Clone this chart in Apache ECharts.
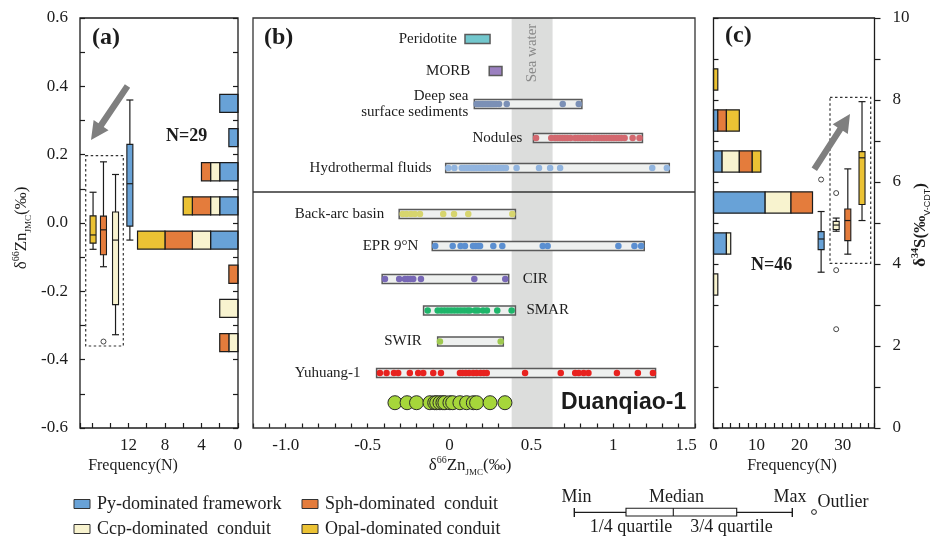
<!DOCTYPE html>
<html>
<head>
<meta charset="utf-8">
<script src="https://cdn.jsdelivr.net/npm/echarts@6/dist/echarts.min.js"></script>
<style>
html, body { margin: 0; padding: 0; background: #ffffff; }
#chart { width: 932px; height: 536px; }
</style>
</head>
<body>
<div id="chart"></div>
<script>
// ================= DATA =================
const groupNames = ['Py-dominated framework', 'Ccp-dominated  conduit', 'Sph-dominated  conduit', 'Opal-dominated conduit'];

// ---- Panel (a): δ66Zn (‰) histogram, bin centres and counts per group ----
const znBinCenters = [0.35, 0.25, 0.15, 0.05, -0.05, -0.15, -0.25, -0.35];
const znCountPy   = [2, 1, 2, 2, 3, 0, 0, 0];
const znCountCcp  = [0, 0, 1, 1, 2, 0, 2, 1];
const znCountSph  = [0, 0, 1, 2, 3, 1, 0, 1];
const znCountOpal = [0, 0, 0, 1, 3, 0, 0, 0];
// box statistics [min, q1, median, q3, max]
const znBoxPy   = [-0.05, -0.009, 0.115, 0.23, 0.36];
const znBoxCcp  = [-0.327, -0.239, -0.05, 0.032, 0.142];
const znBoxSph  = [-0.128, -0.093, -0.02, 0.02, 0.179];
const znBoxOpal = [-0.077, -0.059, -0.035, 0.021, 0.09];
const znOutliersSph = [-0.347];
const znTickValues = [-0.6, -0.4, -0.2, 0.0, 0.2, 0.4, 0.6];
const freqTickLabelsA = [0, 4, 8, 12];
const znTotalLabel = 'N=29';

// ---- Panel (b): reference δ66Zn ranges and individual values ----
const refNames = ['Peridotite', 'MORB', 'Deep sea\nsurface sediments', 'Nodules', 'Hydrothermal fluids',
  'Back-arc basin', 'EPR 9°N', 'CIR', 'SMAR', 'SWIR', 'Yuhuang-1'];
const refMin = [0.095, 0.243, 0.152, 0.513, -0.023, -0.307, -0.105, -0.411, -0.158, -0.072, -0.445];
const refMax = [0.248, 0.321, 0.809, 1.179, 1.343, 0.403, 1.19, 0.362, 0.403, 0.329, 1.259];
const dotsPeridotite = [];
const dotsMORB = [];
const dotsDeepSea = [0.166, 0.178, 0.19, 0.2, 0.21, 0.22, 0.23, 0.24, 0.25, 0.26, 0.272, 0.285, 0.303, 0.35, 0.692, 0.79];
const dotsNodules = [0.529, 0.622, 0.645, 0.66, 0.675, 0.69, 0.705, 0.72, 0.74, 0.768, 0.785, 0.8, 0.815, 0.83, 0.845, 0.86,
  0.884, 0.9, 0.915, 0.93, 0.945, 0.96, 0.975, 0.99, 1.005, 1.02, 1.035, 1.05, 1.07, 1.119, 1.161];
const dotsHydro = [-0.007, 0.03, 0.075, 0.09, 0.105, 0.12, 0.135, 0.15, 0.165, 0.18, 0.195, 0.21, 0.228, 0.25, 0.265,
  0.28, 0.3, 0.315, 0.33, 0.345, 0.41, 0.547, 0.615, 0.676, 1.239, 1.328];
const dotsBackArc = [-0.286, -0.262, -0.235, -0.211, -0.18, -0.038, 0.028, 0.115, 0.384];
const dotsEPR = [-0.087, 0.02, 0.068, 0.095, 0.144, 0.16, 0.176, 0.187, 0.268, 0.323, 0.57, 0.6, 1.032, 1.13, 1.171];
const dotsCIR = [-0.394, -0.307, -0.272, -0.255, -0.238, -0.221, -0.174, 0.152, 0.341];
const dotsSMAR = [-0.133, -0.072, -0.05, -0.03, -0.01, 0.01, 0.03, 0.05, 0.07, 0.09, 0.11, 0.125, 0.156, 0.174, 0.205, 0.229, 0.292, 0.38];
const dotsSWIR = [-0.058, 0.313];
const dotsYuhuang = [-0.425, -0.384, -0.339, -0.313, -0.242, -0.191, -0.16, -0.099, -0.052, 0.064, 0.08, 0.1, 0.12, 0.145,
  0.166, 0.19, 0.21, 0.228, 0.462, 0.68, 0.768, 0.79, 0.82, 0.849, 1.023, 1.151, 1.243];
const dotsDuanqiao = [-0.333, -0.259, -0.201, -0.119, -0.09, -0.078, -0.058, -0.04, -0.028, 0.003, 0.02, 0.064, 0.105, 0.146, 0.166, 0.248, 0.339];
const duanqiaoName = 'Duanqiao-1';
const seaWaterRange = [0.38, 0.63];
const znTickValuesB = [-1.0, -0.5, 0, 0.5, 1, 1.5];
const znTickLabelsB = ['-1.0', '-0.5', '0', '0.5', '1', '1.5'];

// ---- Panel (c): δ34S (‰) histogram ----
const sBinCenters = [8.5, 7.5, 6.5, 5.5, 4.5, 3.5];
const sCountPy   = [0, 1, 2, 12, 3, 0];
const sCountCcp  = [0, 0, 4, 6, 1, 1];
const sCountSph  = [0, 2, 3, 5, 0, 0];
const sCountOpal = [1, 3, 2, 0, 0, 0];
const sBoxPy   = [3.8, 4.35, 4.61, 4.79, 5.28];
const sBoxCcp  = [4.8, 4.84, 4.95, 5.04, 5.12];
const sBoxSph  = [4.24, 4.57, 5.06, 5.34, 6.32];
const sBoxOpal = [5.06, 5.45, 6.59, 6.74, 7.96];
const sOutliersPy = [6.06];
const sOutliersCcp = [5.73, 3.85, 2.41];
const sTickValues = [0, 2, 4, 6, 8, 10];
const freqTickLabelsC = [0, 10, 20, 30];
const sTotalLabel = 'N=46';

// ================= LAYOUT / STYLE =================
const SERIF = '"Liberation Serif", "Times New Roman", serif';
const SANS = '"Liberation Sans", Arial, sans-serif';
const INK = '#1c1c1c';
const CAT_COLORS = ['#68a2d7', '#f8f3cf', '#e47c3c', '#ebc234']; // Py, Ccp, Sph, Opal
const GRID_A = { left: 80, top: 18, width: 158, height: 410 };
const GRID_B = { left: 253, top: 18, width: 442, height: 410 };
const GRID_C = { left: 713.5, top: 18, width: 161, height: 410 };
const freqMaxA = 17.3, freqMaxC = 37.4;
const xbMin = -1.2, xbMax = 1.5;
const rowMax = 13;
const rowPos = [0.666, 1.681, 2.727, 3.805, 4.756, 6.215, 7.229, 8.276, 9.275, 10.257, 11.256];
const duanqiaoRow = 12.198;
const separatorRow = 5.517;
const labelLayout = [['left', 8], ['left', 19], ['left', 6], ['left', 11], ['left', 14], ['left', 15], ['left', 14],
  ['right', 14], ['right', 11], ['left', 16], ['left', 16]];
const refFill = ['#72c7cd', '#9b80c0', '#eef0ef', '#eef0ef', '#eef0ef', '#eef0ef', '#eef0ef', '#eef0ef', '#eef0ef', '#eef0ef', '#eef0ef'];
const refDots = [dotsPeridotite, dotsMORB, dotsDeepSea, dotsNodules, dotsHydro, dotsBackArc, dotsEPR, dotsCIR, dotsSMAR, dotsSWIR, dotsYuhuang];
const refDotColors = ['#72c7cd', '#9b80c0', '#7b90b6', '#d3686f', '#92b5df', '#d7d56e', '#5b8fd1', '#7868b6', '#1eb56a', '#9fc950', '#e8221f'];
const boxPosA = [11.84, 13.41, 14.73, 15.87]; // Py, Ccp, Sph, Opal (on freq axis)
const boxPosC = [25.0, 28.5, 31.2, 34.5];

// ================= BUILDERS =================
function histItems(centers, countsList) {
  const items = [];
  centers.forEach((c, i) => {
    let acc = 0;
    countsList.forEach((counts, k) => {
      const n = counts[i];
      if (n > 0) { items.push([acc, c, acc + n, k]); acc += n; }
    });
  });
  return items;
}
function renderHist(halfH) {
  return function (params, api) {
    const s = api.value(0), c = api.value(1), e = api.value(2), k = api.value(3);
    const p0 = api.coord([s, c + halfH]);
    const p1 = api.coord([e, c - halfH]);
    return {
      type: 'rect',
      shape: { x: Math.min(p0[0], p1[0]), y: Math.min(p0[1], p1[1]), width: Math.abs(p1[0] - p0[0]), height: Math.abs(p1[1] - p0[1]) },
      style: { fill: CAT_COLORS[k], stroke: INK, lineWidth: 1.2 }
    };
  };
}
function boxItems(positions, boxes) {
  return boxes.map((b, k) => [positions[k]].concat(b).concat([k]));
}
function renderBox(halfW) {
  return function (params, api) {
    const pos = api.value(0);
    const v = [1, 2, 3, 4, 5].map(i => api.value(i));
    const k = api.value(6);
    const p = v.map(val => api.coord([pos, val]));
    const x = p[0][0];
    const st = { stroke: INK, lineWidth: 1.2, fill: null };
    return {
      type: 'group', children: [
        { type: 'line', shape: { x1: x, y1: p[0][1], x2: x, y2: p[4][1] }, style: st },
        { type: 'line', shape: { x1: x - halfW - 0.5, y1: p[0][1], x2: x + halfW + 0.5, y2: p[0][1] }, style: st },
        { type: 'line', shape: { x1: x - halfW - 0.5, y1: p[4][1], x2: x + halfW + 0.5, y2: p[4][1] }, style: st },
        { type: 'rect', shape: { x: x - halfW, y: p[3][1], width: 2 * halfW, height: p[1][1] - p[3][1] }, style: { fill: CAT_COLORS[k], stroke: INK, lineWidth: 1.1 } },
        { type: 'line', shape: { x1: x - halfW, y1: p[2][1], x2: x + halfW, y2: p[2][1] }, style: st }
      ]
    };
  };
}

const tickLine = { color: INK, width: 1.2 };
const labelBase = { fontFamily: SERIF, fontSize: 17, color: INK };
function near(v, arr) { return arr.some(t => Math.abs(t - v) < 1e-6); }

const series = [];
// ---- (a) histogram ----
series.push({
  type: 'custom', xAxisIndex: 0, yAxisIndex: 0, z: 3, silent: true,
  data: histItems(znBinCenters, [znCountPy, znCountCcp, znCountSph, znCountOpal]),
  encode: { x: [0, 2], y: 1 },
  renderItem: renderHist(0.0265)
});
series.push({
  type: 'custom', xAxisIndex: 0, yAxisIndex: 0, z: 3, silent: true,
  data: boxItems(boxPosA, [znBoxPy, znBoxCcp, znBoxSph, znBoxOpal]),
  encode: { x: 0, y: [1, 5] },
  renderItem: renderBox(3)
});
series.push({
  type: 'scatter', xAxisIndex: 0, yAxisIndex: 0, z: 4, silent: true,
  symbol: 'circle', symbolSize: 5,
  itemStyle: { color: '#ffffff', borderColor: INK, borderWidth: 1 },
  data: znOutliersSph.map(v => [boxPosA[2], v])
});

// ---- (b) sea water band ----
series.push({
  type: 'custom', xAxisIndex: 1, yAxisIndex: 2, z: 1, silent: true,
  data: [seaWaterRange],
  renderItem: function (params, api) {
    const pTop = api.coord([api.value(0), 0]);
    const pBot = api.coord([api.value(1), rowMax]);
    const cx = (pTop[0] + pBot[0]) / 2;
    return {
      type: 'group', children: [
        { type: 'rect', shape: { x: pTop[0], y: pTop[1], width: pBot[0] - pTop[0], height: pBot[1] - pTop[1] }, style: { fill: '#dcdddc' } },
        { type: 'text', x: cx, y: pTop[1] + 35, rotation: Math.PI / 2,
          style: { text: 'Sea water', font: '15px ' + SERIF, fill: '#8a8a8a', align: 'center', verticalAlign: 'middle' } }
      ]
    };
  }
});
// separator line
series.push({
  type: 'custom', xAxisIndex: 1, yAxisIndex: 2, z: 6, silent: true,
  data: [[xbMin, separatorRow, xbMax]],
  renderItem: function (params, api) {
    const a = api.coord([api.value(0), api.value(1)]);
    const b = api.coord([api.value(2), api.value(1)]);
    return { type: 'line', shape: { x1: a[0], y1: a[1], x2: b[0], y2: b[1] }, style: { stroke: '#333333', lineWidth: 1.5 } };
  }
});
// range bars
series.push({
  type: 'custom', xAxisIndex: 1, yAxisIndex: 2, z: 3, silent: true,
  data: refNames.map((n, i) => [refMin[i], rowPos[i], refMax[i], i]),
  encode: { x: [0, 2], y: 1 },
  renderItem: function (params, api) {
    const i = api.value(3);
    const a = api.coord([api.value(0), api.value(1) - 0.142]);
    const b = api.coord([api.value(2), api.value(1) + 0.142]);
    return { type: 'rect', shape: { x: a[0], y: a[1], width: b[0] - a[0], height: b[1] - a[1] },
      style: { fill: refFill[i], stroke: '#5a5a5a', lineWidth: 1.5 } };
  }
});
// dots
refDots.forEach((arr, i) => {
  if (!arr.length) return;
  series.push({
    type: 'scatter', xAxisIndex: 1, yAxisIndex: 2, z: 4, silent: true,
    symbol: 'circle', symbolSize: 6.5,
    itemStyle: { color: refDotColors[i], opacity: 1 },
    data: arr.map(v => [v, rowPos[i]])
  });
});
series.push({
  type: 'scatter', xAxisIndex: 1, yAxisIndex: 2, z: 4, silent: true,
  symbol: 'circle', symbolSize: 14,
  itemStyle: { color: '#a6d63a', borderColor: '#2a2a2a', borderWidth: 1, opacity: 1 },
  data: dotsDuanqiao.map(v => [v, duanqiaoRow])
});
// row labels
series.push({
  type: 'custom', xAxisIndex: 1, yAxisIndex: 2, z: 5, silent: true,
  data: refNames.map((n, i) => [labelLayout[i][0] === 'left' ? refMin[i] : refMax[i], rowPos[i], i]),
  renderItem: function (params, api) {
    const i = api.value(2);
    const side = labelLayout[i][0], gap = labelLayout[i][1];
    const p = api.coord([api.value(0), api.value(1)]);
    return { type: 'text', x: p[0] + (side === 'left' ? -gap : gap), y: p[1],
      style: { text: refNames[i], font: '15px ' + SERIF, fill: INK, align: side === 'left' ? 'right' : 'left', verticalAlign: 'middle', lineHeight: 16 } };
  }
});
series.push({
  type: 'custom', xAxisIndex: 1, yAxisIndex: 2, z: 5, silent: true,
  data: [[Math.max.apply(null, dotsDuanqiao), duanqiaoRow]],
  renderItem: function (params, api) {
    const p = api.coord([api.value(0), api.value(1)]);
    return { type: 'text', x: p[0] + 56, y: p[1],
      style: { text: duanqiaoName, font: 'bold 23px ' + SANS, fill: INK, align: 'left', verticalAlign: 'middle' } };
  }
});

// ---- (c) histogram ----
series.push({
  type: 'custom', xAxisIndex: 2, yAxisIndex: 3, z: 3, silent: true,
  data: histItems(sBinCenters, [sCountPy, sCountCcp, sCountSph, sCountOpal]),
  encode: { x: [0, 2], y: 1 },
  renderItem: renderHist(0.26)
});
series.push({
  type: 'custom', xAxisIndex: 2, yAxisIndex: 3, z: 3, silent: true,
  data: boxItems(boxPosC, [sBoxPy, sBoxCcp, sBoxSph, sBoxOpal]),
  encode: { x: 0, y: [1, 5] },
  renderItem: renderBox(3)
});
series.push({
  type: 'scatter', xAxisIndex: 2, yAxisIndex: 3, z: 4, silent: true,
  symbol: 'circle', symbolSize: 5,
  itemStyle: { color: '#ffffff', borderColor: INK, borderWidth: 1 },
  data: sOutliersPy.map(v => [boxPosC[0], v]).concat(sOutliersCcp.map(v => [boxPosC[1], v]))
});

// ================= GRAPHICS (annotations, titles, legend) =================
function text(x, y, str, font, align, extra) {
  return Object.assign({ type: 'text', x: x, y: y, z: 50,
    style: { text: str, font: font, fill: INK, align: align || 'left', textAlign: align || 'left', verticalAlign: 'middle', textVerticalAlign: 'middle' } }, extra || {});
}
function arrow(x0, y0, x1, y1) {
  const dx = x1 - x0, dy = y1 - y0, L = Math.hypot(dx, dy);
  const ux = dx / L, uy = dy / L, nx = -uy, ny = ux;
  const hl = 18, hw = 9, sw = 3.2;
  const bx = x1 - ux * hl, by = y1 - uy * hl;
  return { type: 'polygon', z: 50, shape: { points: [
    [x0 + nx * sw, y0 + ny * sw], [bx + nx * sw, by + ny * sw], [bx + nx * hw, by + ny * hw], [x1, y1],
    [bx - nx * hw, by - ny * hw], [bx - nx * sw, by - ny * sw], [x0 - nx * sw, y0 - ny * sw]] },
    style: { fill: '#7f7f7f' } };
}
function richTitle(x, y, parts, bold, rotate) {
  return {
    type: 'text', x: x, y: y, z: 50, rotation: rotate ? Math.PI / 2 : 0,
    style: {
      text: parts, align: 'center', textAlign: 'center', verticalAlign: 'middle', textVerticalAlign: 'middle',
      rich: {
        m: { fontFamily: SERIF, fontSize: 17, fontWeight: bold ? 'bold' : 'normal', fill: INK, lineHeight: 22, verticalAlign: 'middle' },
        sup: { fontFamily: SERIF, fontSize: 10, fontWeight: bold ? 'bold' : 'normal', fill: INK, lineHeight: 12, verticalAlign: 'top' },
        sub: { fontFamily: bold ? SANS : SERIF, fontSize: 9, fill: INK, lineHeight: 11, verticalAlign: 'bottom' }
      }
    }
  };
}
const g = [];
g.push(text(92, 38, '(a)', 'bold 24px ' + SERIF));
g.push(text(264, 38, '(b)', 'bold 24px ' + SERIF));
g.push(text(725, 36, '(c)', 'bold 24px ' + SERIF));
g.push(text(166, 136, znTotalLabel, 'bold 18px ' + SERIF));
g.push(text(751, 265, sTotalLabel, 'bold 18px ' + SERIF));
g.push(text(133, 466, 'Frequency(N)', '16px ' + SERIF, 'center'));
g.push(text(792, 466, 'Frequency(N)', '16px ' + SERIF, 'center'));
g.push(richTitle(470, 466, '{m|δ}{sup|66}{m|Zn}{sub|JMC}{m|(‰)}', false, false));
g.push(richTitle(22, 228, '{m|δ}{sup|66}{m|Zn}{sub|JMC}{m|(‰)}', false, true));
g.push(richTitle(921, 225, '{m|δ}{sup|34}{m|S(‰}{sub|V-CDT}{m|)}', true, true));
// dashed frames around boxplots
g.push({ type: 'rect', z: 50, shape: { x: 85.7, y: 155.7, width: 37.6, height: 190.3 }, style: { fill: null, stroke: '#333', lineWidth: 1.2, lineDash: [2.5, 2.5] } });
g.push({ type: 'rect', z: 50, shape: { x: 830, y: 97.3, width: 40.7, height: 166 }, style: { fill: null, stroke: '#333', lineWidth: 1.2, lineDash: [2.5, 2.5] } });
g.push(arrow(127.5, 86, 91, 140));
g.push(arrow(814.3, 169.3, 850, 114));
// group legend
const legendPos = [[74, 504], [74, 529], [302, 504], [302, 529]]; // Py, Ccp, Sph, Opal
groupNames.forEach((name, k) => {
  const p = legendPos[k];
  g.push({ type: 'rect', z: 50, shape: { x: p[0], y: p[1] - 4.5, width: 16, height: 9 }, style: { fill: CAT_COLORS[k], stroke: '#333', lineWidth: 1 } });
  g.push(text(p[0] + 23, p[1], name, '18px ' + SERIF));
});
// box-plot legend
g.push({ type: 'line', z: 50, shape: { x1: 574.3, y1: 512.3, x2: 792.3, y2: 512.3 }, style: { stroke: INK, lineWidth: 1.2 } });
g.push({ type: 'line', z: 50, shape: { x1: 574.3, y1: 508, x2: 574.3, y2: 517 }, style: { stroke: INK, lineWidth: 1.4 } });
g.push({ type: 'line', z: 50, shape: { x1: 792.3, y1: 508, x2: 792.3, y2: 517 }, style: { stroke: INK, lineWidth: 1.4 } });
g.push({ type: 'rect', z: 51, shape: { x: 626, y: 508.3, width: 110.7, height: 7.7 }, style: { fill: '#ffffff', stroke: INK, lineWidth: 1.1 } });
g.push({ type: 'line', z: 52, shape: { x1: 673.3, y1: 508.3, x2: 673.3, y2: 516 }, style: { stroke: INK, lineWidth: 1.1 } });
g.push({ type: 'circle', z: 50, shape: { cx: 814, cy: 512, r: 2.4 }, style: { fill: '#fff', stroke: INK, lineWidth: 1 } });
g.push(text(576.5, 497.5, 'Min', '18px ' + SERIF, 'center'));
g.push(text(676.5, 497.5, 'Median', '18px ' + SERIF, 'center'));
g.push(text(790, 497.5, 'Max', '18px ' + SERIF, 'center'));
g.push(text(817.5, 502, 'Outlier', '18px ' + SERIF, 'left'));
g.push(text(631, 527.5, '1/4 quartile', '18px ' + SERIF, 'center'));
g.push(text(731.5, 527.5, '3/4 quartile', '18px ' + SERIF, 'center'));

// ================= OPTION =================
const gridBase = { show: true, borderColor: INK, borderWidth: 1.3, backgroundColor: 'transparent', containLabel: false, outerBoundsMode: 'none', z: 10 };
const hiddenLine = { show: false, onZero: false };
const option = {
  animation: false,
  backgroundColor: '#ffffff',
  grid: [Object.assign({}, gridBase, GRID_A), Object.assign({}, gridBase, GRID_B, { borderColor: '#333' }), Object.assign({}, gridBase, GRID_C)],
  xAxis: [
    { gridIndex: 0, type: 'value', inverse: true, min: 0, max: freqMaxA, interval: 2, position: 'bottom',
      axisLine: hiddenLine, splitLine: { show: false },
      axisTick: { show: true, inside: true, length: 5, lineStyle: tickLine },
      axisLabel: Object.assign({}, labelBase, { margin: 9, showMinLabel: true, showMaxLabel: true, hideOverlap: false,
        formatter: v => near(v, freqTickLabelsA) ? String(Math.round(v)) : '' }) },
    { gridIndex: 1, type: 'value', min: xbMin, max: xbMax, interval: 0.1, position: 'bottom',
      axisLine: hiddenLine, splitLine: { show: false },
      axisTick: { show: true, inside: true, length: 4.5, lineStyle: tickLine },
      axisLabel: Object.assign({}, labelBase, { margin: 9, showMinLabel: true, showMaxLabel: true, hideOverlap: false,
        formatter: v => {
          for (let i = 0; i < znTickValuesB.length; i++) {
            if (Math.abs(znTickValuesB[i] - v) < 1e-6) return i === znTickValuesB.length - 1 ? '{r|' + znTickLabelsB[i] + '}' : znTickLabelsB[i];
          }
          return '';
        },
        rich: { r: { fontFamily: SERIF, fontSize: 17, color: INK, padding: [0, 18, 0, 0] } } }) },
    { gridIndex: 2, type: 'value', min: 0, max: freqMaxC, interval: 2, position: 'bottom',
      axisLine: hiddenLine, splitLine: { show: false },
      axisTick: { show: true, inside: true, length: 5, lineStyle: tickLine },
      axisLabel: Object.assign({}, labelBase, { margin: 9, showMinLabel: true, showMaxLabel: true, hideOverlap: false,
        formatter: v => near(v, freqTickLabelsC) ? String(Math.round(v)) : '' }) }
  ],
  yAxis: [
    { gridIndex: 0, type: 'value', min: -0.6, max: 0.6, interval: 0.2, position: 'left',
      axisLine: hiddenLine, splitLine: { show: false },
      axisTick: { show: true, inside: true, length: 5, lineStyle: tickLine },
      minorTick: { show: true, splitNumber: 2, length: 5, lineStyle: tickLine },
      axisLabel: Object.assign({}, labelBase, { margin: 12, showMinLabel: true, showMaxLabel: true, hideOverlap: false,
        formatter: v => near(v, znTickValues) ? v.toFixed(1) : '' }) },
    { gridIndex: 0, type: 'value', min: -0.6, max: 0.6, interval: 0.2, position: 'right',
      axisLine: hiddenLine, splitLine: { show: false },
      axisTick: { show: true, inside: true, length: 5, lineStyle: tickLine },
      minorTick: { show: true, splitNumber: 2, length: 5, lineStyle: tickLine },
      axisLabel: { show: false } },
    { gridIndex: 1, type: 'value', min: 0, max: rowMax, inverse: true, show: false, axisLine: hiddenLine },
    { gridIndex: 2, type: 'value', min: 0, max: 10, interval: 2, position: 'right',
      axisLine: hiddenLine, splitLine: { show: false },
      axisTick: { show: true, inside: false, length: 6, lineStyle: tickLine },
      minorTick: { show: true, splitNumber: 2, length: 6, lineStyle: tickLine },
      axisLabel: Object.assign({}, labelBase, { margin: 18, showMinLabel: true, showMaxLabel: true, hideOverlap: false,
        formatter: v => near(v, sTickValues) ? String(Math.round(v)) : '' }) },
    { gridIndex: 2, type: 'value', min: 0, max: 10, interval: 1, position: 'left',
      axisLine: hiddenLine, splitLine: { show: false },
      axisTick: { show: true, inside: true, length: 5, lineStyle: tickLine },
      axisLabel: { show: false } }
  ],
  series: series,
  graphic: { elements: g }
};

const chart = echarts.init(document.getElementById('chart'), null, { renderer: 'canvas' });
chart.setOption(option);
</script>
</body>
</html>
